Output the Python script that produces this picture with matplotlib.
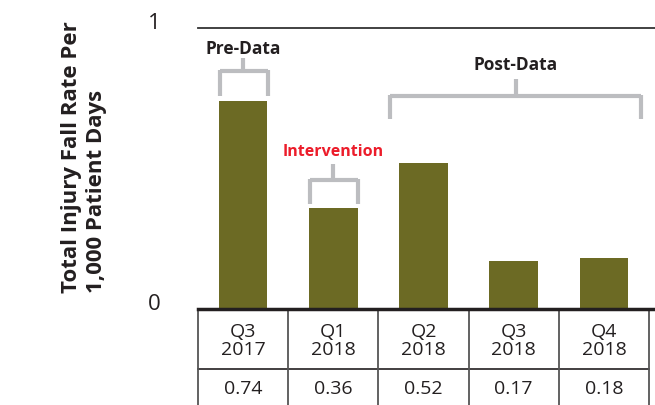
import matplotlib.pyplot as plt

quarters = ["Q3\n2017", "Q1\n2018", "Q2\n2018", "Q3\n2018", "Q4\n2018"]
rates = [0.74, 0.36, 0.52, 0.17, 0.18]
rate_labels = ["0.74", "0.36", "0.52", "0.17", "0.18"]

bar_color = "#6c6a24"
dark = "#231f20"
grey = "#bcbdc0"
red = "#ec1c2a"

plt.rcParams['font.family'] = ['Open Sans', 'DejaVu Sans']

fig = plt.figure(figsize=(6.55, 4.06), dpi=100)
ax = fig.add_axes([198/655, 1-310/406, 451/655, 281/406])

x = list(range(len(rates)))
ax.bar(x, rates, width=0.54, color=bar_color, zorder=2)
ax.set_xlim(-0.5, 4.5)
ax.set_ylim(0, 1)
for s in ax.spines.values():
    s.set_visible(False)
ax.set_xticks([])
ax.set_yticks([0, 1])
ax.set_yticklabels(["0", "1"], fontsize=16, color=dark)
ax.tick_params(axis='y', length=0, pad=27)
for lab in ax.get_yticklabels():
    lab.set_va('baseline')

# top line at 1
ax.plot([-0.5, 4.62], [1, 1], color="#333333", lw=1.3, clip_on=False)

# table under the bars
row1 = -60/281
ax.plot([-0.5, 4.62], [0, 0], color=dark, lw=2.5, clip_on=False, zorder=3)
ax.plot([-0.5, 4.5], [row1, row1], color=dark, lw=1.2, clip_on=False)
for i in range(len(rates) + 1):
    ax.plot([i - 0.5, i - 0.5], [0, -0.5], color="#555555", lw=1.3, clip_on=False)
for i, (q, v) in enumerate(zip(quarters, rate_labels)):
    ax.text(i, -31/281, q, ha='center', va='center', fontsize=14,
            color=dark, linespacing=1.05)
    ax.text(i, -79/281, v, ha='center', va='center', fontsize=14, color=dark)

# brackets
def bracket(x0, x1, ybar, ybot, ytop, xstem):
    kw = dict(color=grey, lw=3, solid_capstyle='butt', clip_on=False)
    ax.plot([x0, x1], [ybar, ybar], **kw)
    ax.plot([x0, x0], [ybar + 0.005, ybot], **kw)
    ax.plot([x1, x1], [ybar + 0.005, ybot], **kw)
    ax.plot([xstem, xstem], [ybar, ytop], **kw)

bracket(-0.255, 0.275, 0.847, 0.758, 0.893, 0.0)
ax.text(0.0, 0.93, "Pre-Data", ha='center', va='center', fontsize=12.5,
        fontweight='bold', color=dark)

bracket(0.745, 1.275, 0.458, 0.375, 0.515, 1.0)
ax.text(1.0, 0.562, "Intervention", ha='center', va='center', fontsize=11.5,
        fontweight='bold', color=red)

bracket(1.633, 4.41, 0.758, 0.676, 0.82, 3.02)
ax.text(3.02, 0.872, "Post-Data", ha='center', va='center', fontsize=12.5,
        fontweight='bold', color=dark)

fig.text(84/655, 1-293/406, "Total Injury Fall Rate Per\n1,000 Patient Days",
         rotation=90, ha='center', va='bottom', multialignment='left',
         fontsize=16, fontweight='bold', color=dark, linespacing=1.25)

fig.savefig("out.png", dpi=100)
